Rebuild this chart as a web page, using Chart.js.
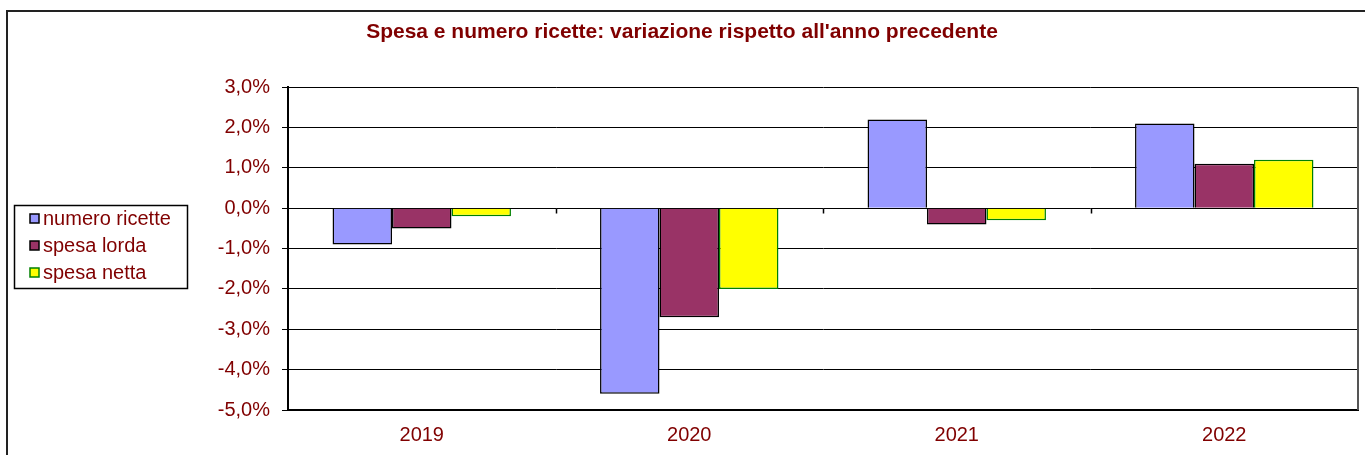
<!DOCTYPE html>
<html>
<head>
<meta charset="utf-8">
<script src="https://cdn.jsdelivr.net/npm/chart.js@4/dist/chart.umd.min.js"></script>
<style>
  html, body { margin: 0; padding: 0; background: #fff; }
  #wrap { width: 1365px; height: 455px; position: relative; }
</style>
</head>
<body>
<div id="wrap"><canvas id="chart" width="1365" height="455"></canvas></div>
<script>
var years = ['2019', '2020', '2021', '2022'];
var numeroRicette = [-0.9, -4.6, 2.2, 2.1];
var spesaLorda = [-0.5, -2.7, -0.4, 1.1];
var spesaNetta = [-0.2, -2.0, -0.3, 1.2];
var yTicks = [3, 2, 1, 0, -1, -2, -3, -4, -5];

var red = '#800000';

function fmt(v) {
  return v.toFixed(1).replace('.', ',') + '%';
}

// outer frame + plot border + small ticks on the zero line
var framePlugin = {
  id: 'frame',
  beforeDraw: function(chart) {
    var ctx = chart.ctx;
    ctx.save();
    ctx.fillStyle = '#fff';
    ctx.fillRect(0, 0, chart.width, chart.height);
    ctx.strokeStyle = '#222';
    ctx.lineWidth = 2;
    ctx.beginPath();
    ctx.moveTo(7, chart.height);
    ctx.lineTo(7, 11);
    ctx.lineTo(chart.width, 11);
    ctx.stroke();
    ctx.restore();
  },
  afterDatasetsDraw: function(chart) {
    var ctx = chart.ctx;
    var a = chart.chartArea;
    var y0 = Math.round(chart.scales.y.getPixelForValue(0)) + 0.5;
    ctx.save();
    ctx.strokeStyle = '#000';
    ctx.lineWidth = 1.5;
    var step = (a.right - a.left) / years.length;
    ctx.beginPath();
    for (var i = 1; i < years.length; i++) {
      var px = Math.round(a.left + step * i) + 0.5;
      ctx.moveTo(px, y0);
      ctx.lineTo(px, y0 + 5);
    }
    ctx.stroke();
    ctx.strokeStyle = '#555';
    ctx.lineWidth = 2;
    ctx.beginPath();
    ctx.moveTo(a.right, a.top);
    ctx.lineTo(a.right, a.bottom);
    ctx.stroke();
    ctx.restore();
  }
};

// boxed legend on the left
var legendPlugin = {
  id: 'boxLegend',
  afterDraw: function(chart) {
    var ctx = chart.ctx;
    ctx.save();
    ctx.strokeStyle = '#000';
    ctx.lineWidth = 1.5;
    ctx.strokeRect(14.5, 205.5, 173, 83);
    ctx.font = '20px "Liberation Sans", Arial, sans-serif';
    ctx.textBaseline = 'middle';
    chart.data.datasets.forEach(function(ds, i) {
      var cy = 218 + i * 27;
      ctx.fillStyle = ds.backgroundColor;
      ctx.fillRect(30, cy - 4, 9, 9);
      ctx.strokeStyle = ds.borderColor;
      ctx.lineWidth = 1.5;
      ctx.strokeRect(30, cy - 4, 9, 9);
      ctx.fillStyle = red;
      ctx.fillText(ds.label, 43, cy + 1);
    });
    ctx.restore();
  }
};

var ctx = document.getElementById('chart').getContext('2d');
var myChart = new Chart(ctx, {
  type: 'bar',
  data: {
    labels: years,
    datasets: [{
      label: 'numero ricette',
      data: numeroRicette,
      backgroundColor: '#9999FF',
      borderColor: '#000',
      borderWidth: 1.5
    }, {
      label: 'spesa lorda',
      data: spesaLorda,
      backgroundColor: '#993366',
      borderColor: '#000',
      borderWidth: 1.5
    }, {
      label: 'spesa netta',
      data: spesaNetta,
      backgroundColor: '#FFFF00',
      borderColor: '#008000',
      borderWidth: 1.5
    }]
  },
  options: {
    responsive: false,
    animation: false,
    layout: {
      padding: { left: 6, right: 7, top: 0, bottom: 0 }
    },
    datasets: {
      bar: { categoryPercentage: 0.667, barPercentage: 1.0 }
    },
    plugins: {
      legend: { display: false },
      tooltip: { enabled: false },
      title: {
        display: true,
        text: "Spesa e numero ricette: variazione rispetto all'anno precedente",
        color: red,
        font: { family: '"Liberation Sans", Arial, sans-serif', size: 21, weight: 'bold' },
        padding: { top: 20, bottom: 42 }
      }
    },
    scales: {
      x: {
        afterFit: function(scale) { scale.height = 45; },
        grid: { display: false, drawTicks: false },
        border: { display: true, color: '#000', width: 2 },
        ticks: {
          color: red,
          padding: 13,
          font: { family: '"Liberation Sans", Arial, sans-serif', size: 20 }
        }
      },
      y: {
        min: -5,
        max: 3,
        afterFit: function(scale) { scale.width = 282; },
        afterBuildTicks: function(scale) {
          scale.ticks = yTicks.map(function(v) { return { value: v }; });
        },
        grid: { color: '#000', lineWidth: 1, tickLength: 6 },
        border: { display: true, color: '#000', width: 2 },
        ticks: {
          color: red,
          padding: 12,
          font: { family: '"Liberation Sans", Arial, sans-serif', size: 20 },
          callback: function(v) { return fmt(v); }
        }
      }
    }
  },
  plugins: [framePlugin, legendPlugin]
});
</script>
</body>
</html>
